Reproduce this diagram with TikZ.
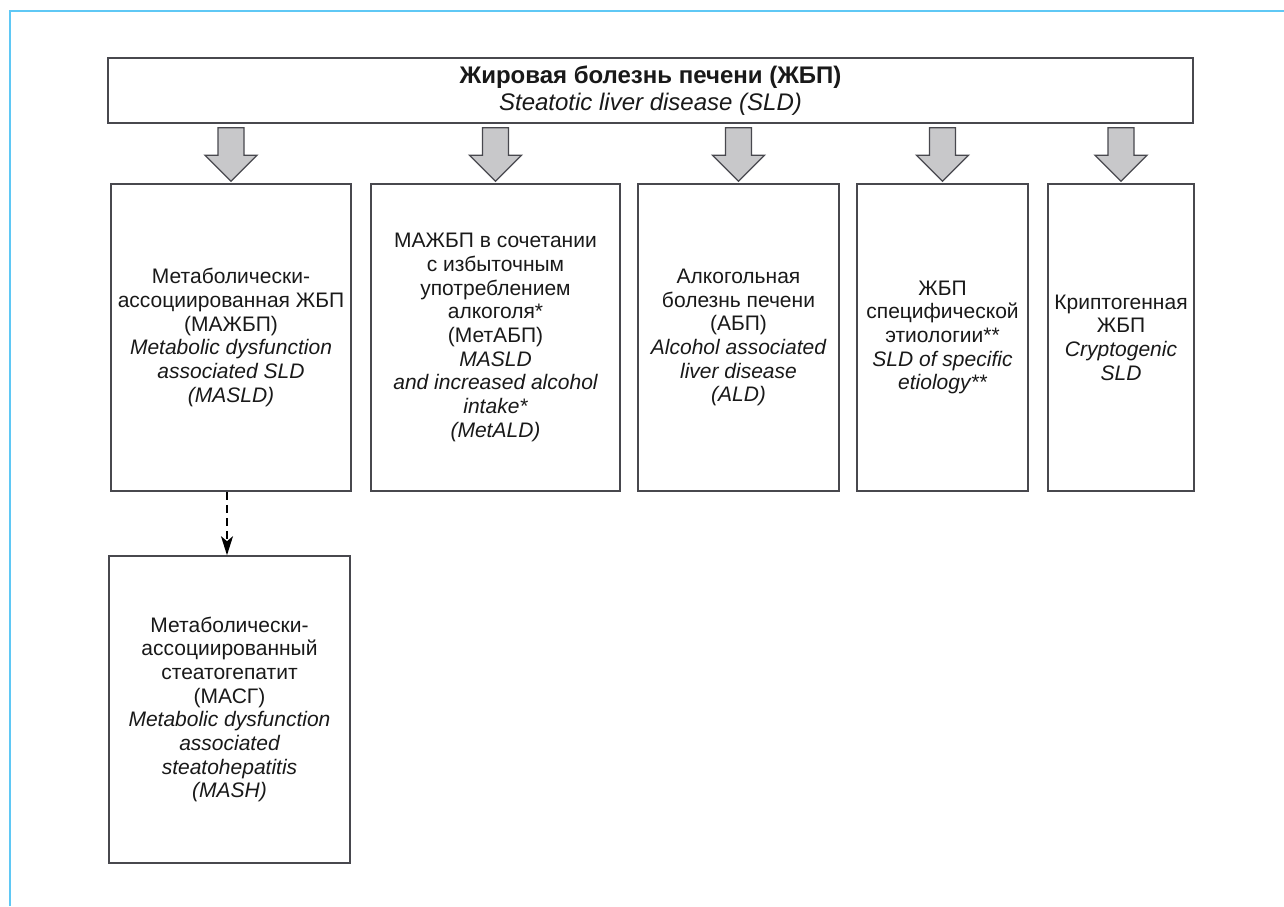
\documentclass[tikz,border=0pt]{standalone}
\usepackage{fontspec}
\setmainfont{Liberation Sans}
\usetikzlibrary{arrows.meta,calc}
\definecolor{frameblue}{RGB}{95,200,245}
\definecolor{boxline}{RGB}{72,72,78}
\definecolor{arrowfill}{RGB}{200,200,202}
\definecolor{txt}{RGB}{25,25,25}
\begin{document}
\begin{tikzpicture}[x=1pt,y=-1pt,
  box/.style={draw=boxline,line width=1.6pt,fill=white,align=center,inner sep=0pt,text=txt,font=\fontsize{21}{23.7}\selectfont},
  titlebox/.style={box,font=\fontsize{24}{27}\selectfont},
  fatarrow/.style={draw=boxline,line width=1.3pt,fill=arrowfill,line join=miter},
  dasharrow/.style={black,line width=1.4pt,dash pattern=on 8pt off 5pt,-{Stealth[length=19pt,width=12pt,inset=5pt]}}]
\useasboundingbox (0,0) rectangle (1284,906);
\fill[white] (0,0) rectangle (1284,906);
\draw[frameblue,line width=1.5pt] (10,906) -- (10,11) -- (1284,11);

\node[titlebox,minimum width=1085pt,minimum height=65pt] (top) at (650.5,90.5)
  {\bfseries Жировая болезнь печени (ЖБП)\\\itshape Steatotic liver disease (SLD)};

\node[box,minimum width=240pt,minimum height=307pt] (b1) at (231,337.5)
  {Метаболически-\\ассоциированная ЖБП\\(МАЖБП)\\\itshape Metabolic dysfunction\\\itshape associated SLD\\\itshape (MASLD)};
\node[box,minimum width=249pt,minimum height=307pt] (b2) at (495.5,337.5)
  {МАЖБП в сочетании\\с избыточным\\употреблением\\алкоголя*\\(МетАБП)\\\itshape MASLD\\\itshape and increased alcohol\\\itshape intake*\\\itshape (MetALD)};
\node[box,minimum width=201pt,minimum height=307pt] (b3) at (738.5,337.5)
  {Алкогольная\\болезнь печени\\(АБП)\\\itshape Alcohol associated\\\itshape liver disease\\\itshape (ALD)};
\node[box,minimum width=171pt,minimum height=307pt] (b4) at (942.5,337.5)
  {ЖБП\\специфической\\этиологии**\\\itshape SLD of specific\\\itshape etiology**};
\node[box,minimum width=146pt,minimum height=307pt] (b5) at (1121,337.5)
  {Криптогенная\\ЖБП\\\itshape Cryptogenic\\\itshape SLD};
\node[box,minimum width=241pt,minimum height=307pt] (b6) at (229.5,709.5)
  {Метаболически-\\ассоциированный\\стеатогепатит\\(МАСГ)\\\itshape Metabolic dysfunction\\\itshape associated\\\itshape steatohepatitis\\\itshape (MASH)};

\foreach \b in {b1,b2,b3,b4,b5}{
  \draw[fatarrow] let \p1=(\b.north), \p2=(top.south) in
    (\x1-13pt,\y2-4pt) -- (\x1+13pt,\y2-4pt) -- (\x1+13pt,\y1+28pt) -- (\x1+26pt,\y1+28pt)
    -- (\x1,\y1+2pt) -- (\x1-26pt,\y1+28pt) -- (\x1-13pt,\y1+28pt) -- cycle;
}

\draw[dasharrow] ([xshift=-2.5pt]b6.north |- b1.south) -- ([xshift=-2.5pt]b6.north);
\end{tikzpicture}
\end{document}
